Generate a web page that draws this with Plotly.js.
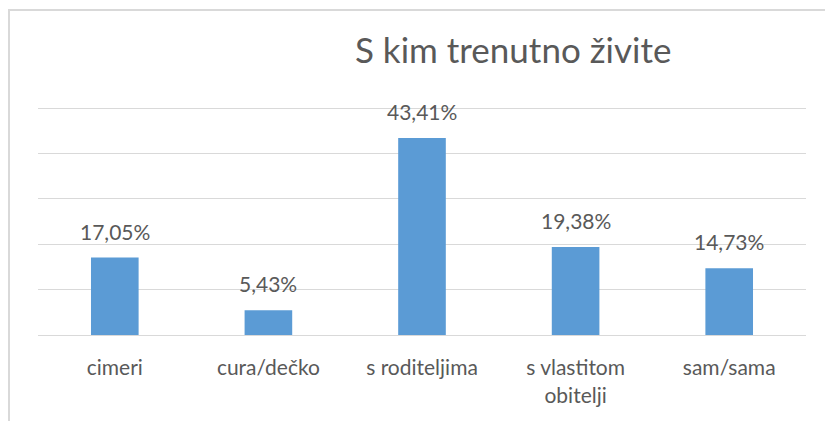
<!DOCTYPE html>
<html>
<head>
<meta charset="utf-8">
<script src="https://cdn.plot.ly/plotly-3.0.1.min.js"></script>
<style>
html,body{margin:0;padding:0;background:#fff;overflow:hidden;}
#wrap{position:relative;width:825px;height:421px;overflow:hidden;}
#chart{width:825px;height:421px;}
#frame{position:absolute;left:8px;top:9px;width:900px;height:500px;border-left:2px solid #D9D9D9;border-top:2px solid #D9D9D9;pointer-events:none;}
</style>
</head>
<body>
<div id="wrap"><div id="chart"></div><div id="frame"></div></div>
<script>
const categories = ['cimeri', 'cura/dečko', 's roditeljima', 's vlastitom<br>obitelji', 'sam/sama'];
const values = [17.05, 5.43, 43.41, 19.38, 14.73];
const titleText = 'S kim trenutno živite';

const FONT = 'Lato, "Noto Sans", sans-serif';
const TXT = '#595959';

const labels = values.map(v => v.toFixed(2).replace('.', ',') + '%');

const trace = {
  type: 'bar',
  x: categories,
  y: values,
  marker: {color: '#5B9BD5'},
  hoverinfo: 'none'
};

const annotations = categories.map((c, i) => ({
  x: c, y: values[i], xref: 'x', yref: 'y',
  text: labels[i], showarrow: false,
  yanchor: 'bottom', yshift: 12,
  font: {family: FONT, size: 21, color: TXT}
}));

const H = 421, B = 86, YMAX = 52;
const plotH = 4.54 * YMAX;
const T = H - B - plotH;

const layout = {
  width: 825, height: H,
  margin: {l: 38, r: 19, t: T, b: B},
  paper_bgcolor: '#fff', plot_bgcolor: 'rgba(0,0,0,0)',
  separators: ',.',
  bargap: 0.69,
  showlegend: false,
  title: {
    text: titleText,
    font: {family: FONT, size: 35, color: TXT},
    x: 0.622, xanchor: 'center',
    y: 0.88, yanchor: 'middle'
  },
  xaxis: {
    type: 'category',
    showgrid: false, zeroline: false,
    showline: true, linecolor: '#D9D9D9', linewidth: 1,
    ticks: 'outside', ticklen: 14, tickcolor: 'rgba(0,0,0,0)',
    tickfont: {family: FONT, size: 21, color: TXT}
  },
  yaxis: {
    range: [0, YMAX], tick0: 0, dtick: 10,
    showticklabels: false, ticks: '',
    showgrid: true, gridcolor: '#D9D9D9', gridwidth: 1,
    zeroline: false, showline: false, fixedrange: true
  },
  annotations: annotations
};

Plotly.newPlot('chart', [trace], layout, {staticPlot: true, displayModeBar: false});
</script>
</body>
</html>
